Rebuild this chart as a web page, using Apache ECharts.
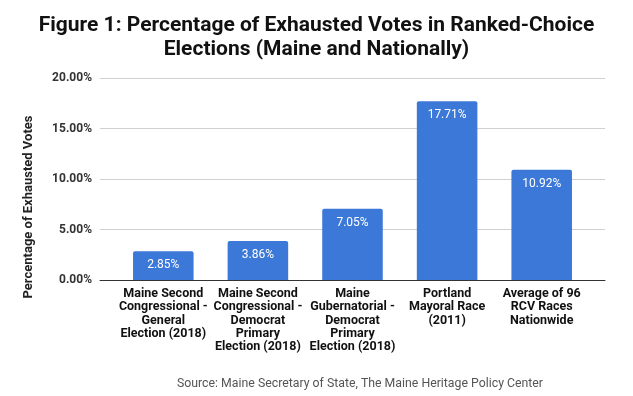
<!DOCTYPE html>
<html>
<head>
<meta charset="utf-8">
<script src="https://cdn.jsdelivr.net/npm/echarts@6/dist/echarts.min.js"></script>
<style>
  html, body { margin: 0; padding: 0; background: #fff; }
  #chart { width: 633px; height: 396px; }
</style>
</head>
<body>
<div id="chart"></div>
<script>
// categories (line breaks as in the picture)
const categories = [
  'Maine Second\nCongressional -\nGeneral\nElection (2018)',
  'Maine Second\nCongressional -\nDemocrat\nPrimary\nElection (2018)',
  'Maine\nGubernatorial -\nDemocrat\nPrimary\nElection (2018)',
  'Portland\nMayoral Race\n(2011)',
  'Average of 96\nRCV Races\nNationwide'
];
const exhaustedPct = [2.85, 3.86, 7.05, 17.71, 10.92];
const yTicks = [0, 5, 10, 15, 20];

const chart = echarts.init(document.getElementById('chart'));

const pctFmt = v => v.toFixed(2) + '%';

chart.setOption({
  animation: false,
  textStyle: { fontFamily: 'Roboto' },
  title: [
    {
      text: 'Figure 1: Percentage of Exhausted Votes in Ranked-Choice\nElections (Maine and Nationally)',
      left: 'center',
      top: 9,
      textStyle: { fontSize: 21, fontWeight: 'bold', color: '#111', lineHeight: 24, fontFamily: 'Roboto' }
    },
    {
      text: 'Source: Maine Secretary of State, The Maine Heritage Policy Center',
      left: 355,
      textAlign: 'center',
      top: 373,
      textStyle: { fontSize: 12.3, fontWeight: 'normal', color: '#555' }
    }
  ],
  graphic: [{
    type: 'text',
    x: 29,
    y: 207,
    rotation: Math.PI / 2,
    style: {
      text: 'Percentage of Exhausted Votes',
      fontFamily: 'Roboto',
      fontSize: 13,
      fontWeight: 'bold',
      fill: '#222',
      align: 'center',
      verticalAlign: 'middle'
    }
  }],
  // grid 0: full-width gridlines + y labels, grid 1: the bars (inset like the original)
  grid: [
    { left: 100, right: 28, top: 78, bottom: 116 },
    { left: 116, right: 44, top: 78, bottom: 116 }
  ],
  xAxis: [
    {
      gridIndex: 0,
      type: 'category',
      data: [''],
      axisTick: { show: false },
      axisLabel: { show: false },
      axisLine: { lineStyle: { color: '#333', width: 1 } }
    },
    {
      gridIndex: 1,
      type: 'category',
      data: categories,
      axisTick: { show: false },
      axisLine: { show: false },
      axisLabel: {
        interval: 0,
        color: '#111',
        fontWeight: 'bold',
        fontSize: 12.5,
        lineHeight: 13.4,
        margin: 7
      }
    }
  ],
  yAxis: [
    {
      gridIndex: 0,
      type: 'value',
      min: yTicks[0],
      max: yTicks[yTicks.length - 1],
      interval: 5,
      axisLine: { show: false },
      axisTick: { show: false },
      axisLabel: {
        color: '#333',
        fontWeight: 'bold',
        fontSize: 12,
        margin: 8,
        formatter: pctFmt
      },
      splitLine: { lineStyle: { color: '#d0d0d0' } }
    },
    {
      gridIndex: 1,
      type: 'value',
      min: yTicks[0],
      max: yTicks[yTicks.length - 1],
      interval: 5,
      show: false,
      splitLine: { show: false }
    }
  ],
  series: [{
    type: 'bar',
    xAxisIndex: 1,
    yAxisIndex: 1,
    data: exhaustedPct,
    barWidth: '64%',
    z: 3,
    itemStyle: { color: '#3c78d8', borderRadius: [2, 2, 0, 0] },
    label: {
      show: true,
      position: 'insideTop',
      distance: 8,
      color: '#fff',
      fontSize: 12,
      formatter: p => pctFmt(p.value)
    }
  }]
});
</script>
</body>
</html>
